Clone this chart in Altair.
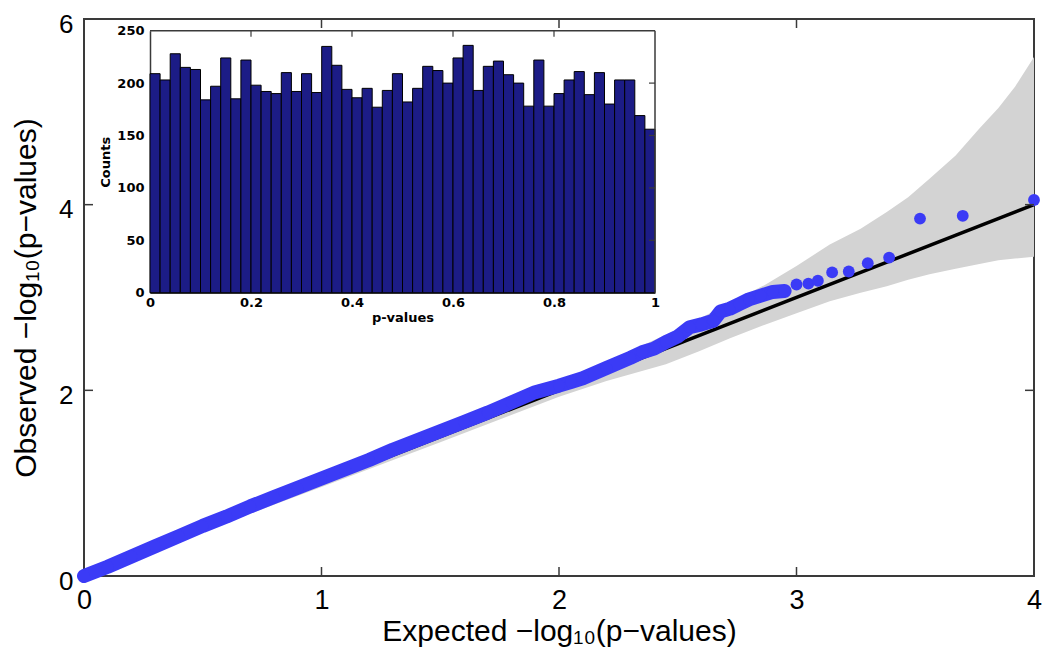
import altair as alt
import pandas as pd

# ---------------- data ----------------
# inset histogram of p-values (50 bins of width 0.02)
bin_left = [0.00, 0.02, 0.04, 0.06, 0.08, 0.10, 0.12, 0.14, 0.16, 0.18,
            0.20, 0.22, 0.24, 0.26, 0.28, 0.30, 0.32, 0.34, 0.36, 0.38,
            0.40, 0.42, 0.44, 0.46, 0.48, 0.50, 0.52, 0.54, 0.56, 0.58,
            0.60, 0.62, 0.64, 0.66, 0.68, 0.70, 0.72, 0.74, 0.76, 0.78,
            0.80, 0.82, 0.84, 0.86, 0.88, 0.90, 0.92, 0.94, 0.96, 0.98]
bin_right = [0.02, 0.04, 0.06, 0.08, 0.10, 0.12, 0.14, 0.16, 0.18, 0.20,
             0.22, 0.24, 0.26, 0.28, 0.30, 0.32, 0.34, 0.36, 0.38, 0.40,
             0.42, 0.44, 0.46, 0.48, 0.50, 0.52, 0.54, 0.56, 0.58, 0.60,
             0.62, 0.64, 0.66, 0.68, 0.70, 0.72, 0.74, 0.76, 0.78, 0.80,
             0.82, 0.84, 0.86, 0.88, 0.90, 0.92, 0.94, 0.96, 0.98, 1.00]
counts = [209, 203, 228, 215, 213, 184, 197, 224, 185, 222,
          198, 192, 190, 210, 192, 209, 191, 235, 217, 194,
          186, 195, 177, 193, 209, 182, 195, 216, 212, 200,
          224, 236, 193, 216, 221, 208, 200, 178, 222, 178,
          190, 203, 211, 189, 210, 180, 203, 203, 169, 156]

# QQ plot: dense part of the curve
dense_exp = [0.00, 0.10, 0.20, 0.30, 0.40, 0.50, 0.60, 0.70, 0.80, 0.90,
             1.00, 1.10, 1.20, 1.30, 1.40, 1.50, 1.60, 1.70, 1.80, 1.90,
             2.00, 2.05, 2.10, 2.20, 2.30, 2.35, 2.40, 2.45, 2.50, 2.55,
             2.60, 2.65, 2.68, 2.72, 2.76, 2.80, 2.85, 2.90, 2.95]
dense_obs = [0.00, 0.10, 0.21, 0.32, 0.43, 0.54, 0.64, 0.75, 0.85, 0.95,
             1.05, 1.15, 1.25, 1.36, 1.46, 1.56, 1.66, 1.76, 1.87, 1.98,
             2.05, 2.09, 2.13, 2.24, 2.35, 2.41, 2.45, 2.52, 2.58, 2.68,
             2.71, 2.75, 2.85, 2.88, 2.93, 2.98, 3.02, 3.06, 3.07]
# sparse tail
tail_exp = [3.00, 3.05, 3.09, 3.15, 3.22, 3.30, 3.39, 3.52, 3.70, 4.00]
tail_obs = [3.14, 3.15, 3.18, 3.27, 3.28, 3.37, 3.43, 3.85, 3.88, 4.05]

# confidence band
band_x = [0.00, 0.50, 1.00, 1.50, 2.00, 2.20, 2.45, 2.59, 2.72, 2.87, 3.00,
          3.14, 3.27, 3.38, 3.47, 3.56, 3.67, 3.77, 3.85, 3.92, 4.00]
band_hi = [0.01, 0.52, 1.04, 1.56, 2.08, 2.31, 2.60, 2.77, 2.94, 3.14, 3.34,
           3.57, 3.74, 3.92, 4.08, 4.28, 4.53, 4.82, 5.04, 5.27, 5.59]
band_lo = [0.00, 0.48, 0.96, 1.44, 1.93, 2.10, 2.28, 2.42, 2.56, 2.71, 2.83,
           2.96, 3.05, 3.12, 3.19, 3.25, 3.31, 3.36, 3.40, 3.42, 3.44]

# reference line y = x
ref_exp = [0, 4]
ref_obs = [0, 4]

x_ticks = [0, 1, 2, 3, 4]
y_ticks = [0, 2, 4, 6]
inner_x_ticks = [1, 2, 3]
inner_y_ticks = [2, 4]
inset_x_ticks = [0, 0.2, 0.4, 0.6, 0.8, 1]
inset_y_ticks = [0, 50, 100, 150, 200, 250]
inset_top_ticks = [0.2, 0.4, 0.6, 0.8]
inset_right_ticks = [50, 100, 150, 200]

# ---------------- style ----------------
W, H = 950, 557
PAD = {"left": 76, "top": 11, "right": 8, "bottom": 95}
FONT = "Liberation Sans"
IFONT = "DejaVu Sans"
BLUE = "#3b3bf6"
NAVY = "#1c1c86"
GRAY = "#d3d3d3"
FRAME = "#3a3a3a"


def xs():
    return alt.Scale(domain=[0, 4], nice=False, zero=False)


def ys():
    return alt.Scale(domain=[0, 6], nice=False, zero=False)


x_axis = alt.Axis(title="Expected −log₁₀(p−values)", values=x_ticks, format="d",
                  labelFont=FONT, labelFontSize=27, labelColor="black",
                  titleFont=FONT, titleFontSize=30, titleFontWeight="normal",
                  titleColor="black", ticks=False, domain=False, grid=False,
                  labelPadding=11, titlePadding=3, labelFlush=False)
y_axis = alt.Axis(title="Observed −log₁₀(p−values)", values=y_ticks, format="d",
                  labelFont=FONT, labelFontSize=26, labelColor="black",
                  titleFont=FONT, titleFontSize=30, titleFontWeight="normal",
                  titleColor="black", ticks=False, domain=False, grid=False,
                  labelPadding=11, labelOffset=5, titlePadding=17,
                  labelFlush=False)

band_df = pd.DataFrame({"e": band_x, "hi": band_hi, "lo": band_lo})
band = alt.Chart(band_df).mark_area(color=GRAY, opacity=1).encode(
    x=alt.X("e:Q", scale=xs(), axis=x_axis),
    y=alt.Y("hi:Q", scale=ys(), axis=y_axis),
    y2="lo:Q",
)

ref = alt.Chart(pd.DataFrame({"e": ref_exp, "o": ref_obs})).mark_line(
    color="black", strokeWidth=3.5
).encode(
    x=alt.X("e:Q", scale=xs(), axis=None),
    y=alt.Y("o:Q", scale=ys(), axis=None),
)

dense_df = pd.DataFrame({"e": dense_exp, "o": dense_obs})
all_df = pd.DataFrame({"e": dense_exp + tail_exp, "o": dense_obs + tail_obs})

qq_line = alt.Chart(dense_df).mark_line(
    color=BLUE, strokeWidth=14, strokeCap="round", strokeJoin="round"
).encode(
    x=alt.X("e:Q", scale=xs(), axis=None),
    y=alt.Y("o:Q", scale=ys(), axis=None),
    order="e:Q",
)
qq_pts = alt.Chart(all_df).mark_circle(color=BLUE, size=140, opacity=1).encode(
    x=alt.X("e:Q", scale=xs(), axis=None),
    y=alt.Y("o:Q", scale=ys(), axis=None),
)

# inward ticks of the main frame
xt_df = pd.DataFrame({"t": inner_x_ticks})
yt_df = pd.DataFrame({"t": inner_y_ticks})
tick_b = alt.Chart(xt_df).mark_rule(color=FRAME, strokeWidth=1.5).encode(
    x=alt.X("t:Q", scale=xs(), axis=None), y=alt.value(H), y2=alt.value(H - 9))
tick_t = alt.Chart(xt_df).mark_rule(color=FRAME, strokeWidth=1.5).encode(
    x=alt.X("t:Q", scale=xs(), axis=None), y=alt.value(0), y2=alt.value(9))
tick_l = alt.Chart(yt_df).mark_rule(color=FRAME, strokeWidth=1.5).encode(
    y=alt.Y("t:Q", scale=ys(), axis=None), x=alt.value(0), x2=alt.value(9))
tick_r = alt.Chart(yt_df).mark_rule(color=FRAME, strokeWidth=1.5).encode(
    y=alt.Y("t:Q", scale=ys(), axis=None), x=alt.value(W), x2=alt.value(W - 9))

# ---------------- inset ----------------
IX0, IX1 = 66, 571
IY0, IY1 = 273.7, 11.7


def ixs():
    return alt.Scale(domain=[0, 1], range=[IX0, IX1], nice=False, zero=False)


def iys():
    return alt.Scale(domain=[0, 250], range=[IY0, IY1], nice=False, zero=False)


ix_axis = alt.Axis(orient="bottom", offset=-(H - IY0), title="p-values",
                   values=inset_x_ticks, format="~g",
                   labelFont=IFONT, labelFontSize=13, labelFontWeight="bold",
                   labelColor="black", titleFont=IFONT, titleFontSize=13,
                   titleFontWeight="bold", titleColor="black", ticks=False,
                   domain=True, domainColor=FRAME, domainWidth=1.5, grid=False,
                   labelPadding=4, titlePadding=2, labelFlush=False)
iy_axis = alt.Axis(orient="left", offset=-IX0, title="Counts",
                   values=inset_y_ticks, format="d",
                   labelFont=IFONT, labelFontSize=13, labelFontWeight="bold",
                   labelColor="black", titleFont=IFONT, titleFontSize=13,
                   titleFontWeight="bold", titleColor="black", ticks=False,
                   domain=True, domainColor=FRAME, domainWidth=1.5, grid=False,
                   labelPadding=6, titlePadding=4, labelFlush=False)

hist_df = pd.DataFrame({"lo": bin_left, "hi": bin_right, "count": counts,
                        "base": [0] * len(counts)})
bars = alt.Chart(hist_df).mark_rect(fill=NAVY, stroke="black", strokeWidth=1).encode(
    x=alt.X("lo:Q", scale=ixs(), axis=ix_axis),
    x2="hi:Q",
    y=alt.Y("count:Q", scale=iys(), axis=iy_axis),
    y2="base:Q",
)

frame_df = pd.DataFrame({"x0": [0], "x1": [1], "y0": [0], "y1": [250]})
inset_top = alt.Chart(frame_df).mark_rule(color=FRAME, strokeWidth=1.5).encode(
    x=alt.X("x0:Q", scale=ixs(), axis=None), x2="x1:Q",
    y=alt.Y("y1:Q", scale=iys(), axis=None))
inset_right = alt.Chart(frame_df).mark_rule(color=FRAME, strokeWidth=1.5).encode(
    x=alt.X("x1:Q", scale=ixs(), axis=None),
    y=alt.Y("y0:Q", scale=iys(), axis=None), y2="y1:Q")
itop_ticks = alt.Chart(pd.DataFrame({"t": inset_top_ticks})).mark_rule(
    color=FRAME, strokeWidth=1.2).encode(
    x=alt.X("t:Q", scale=ixs(), axis=None), y=alt.value(IY1), y2=alt.value(IY1 + 6))
iright_ticks = alt.Chart(pd.DataFrame({"t": inset_right_ticks})).mark_rule(
    color=FRAME, strokeWidth=1.2).encode(
    y=alt.Y("t:Q", scale=iys(), axis=None), x=alt.value(IX1), x2=alt.value(IX1 - 6))

chart = alt.layer(
    band, ref, qq_line, qq_pts, tick_b, tick_t, tick_l, tick_r,
    bars, inset_top, inset_right, itop_ticks, iright_ticks,
).resolve_scale(
    x="independent", y="independent"
).properties(
    width=W, height=H,
    padding=PAD,
    autosize=alt.AutoSizeParams(type="none"),
).configure(
    background="white"
).configure_view(
    stroke=FRAME, strokeWidth=2
)

chart.save("out.html", embed_options={"renderer": "svg", "actions": False})
